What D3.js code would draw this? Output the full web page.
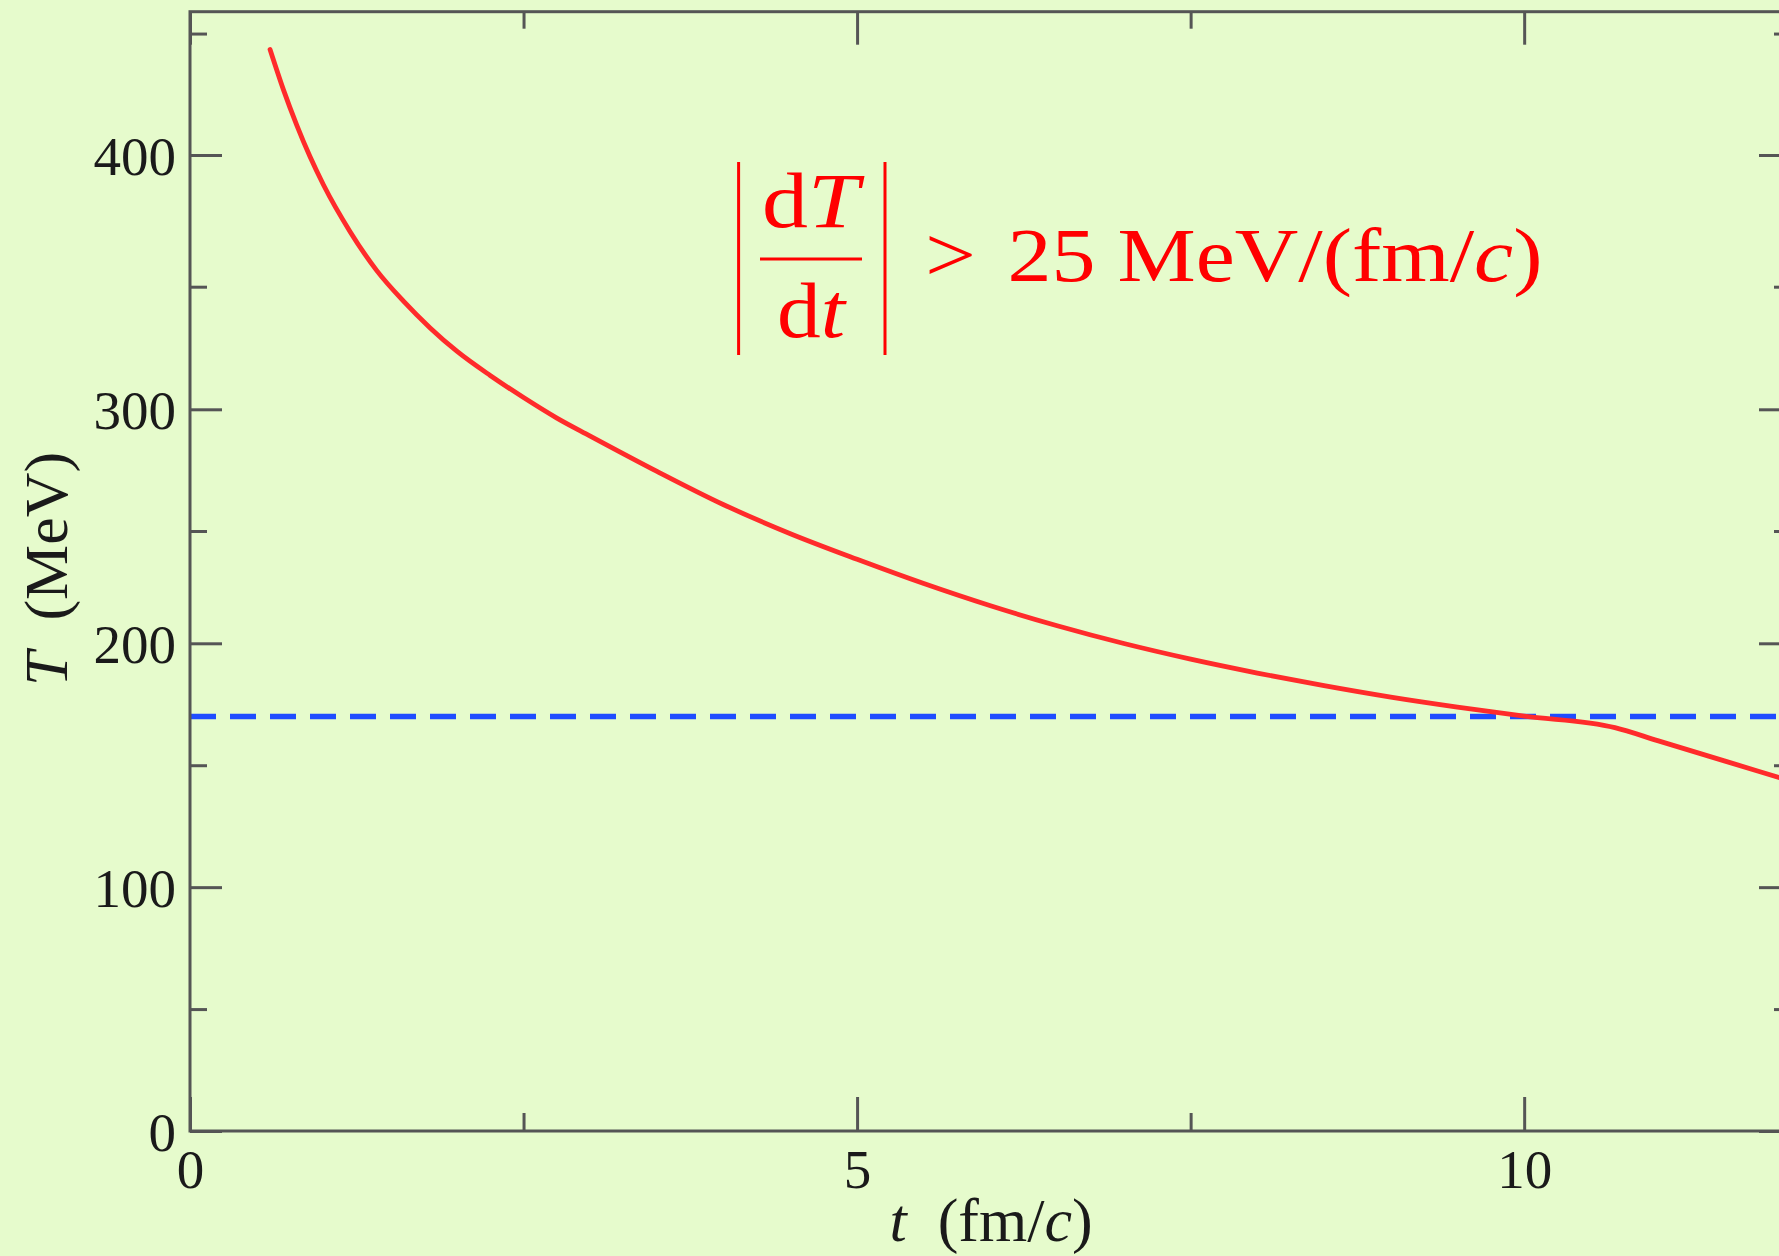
<!DOCTYPE html>
<html>
<head>
<meta charset="utf-8">
<script src="https://cdn.jsdelivr.net/npm/d3@7"></script>
<style>
  html, body { margin: 0; padding: 0; background: #e6fbcc; }
  svg { display: block; }
  text { font-family: "Liberation Serif", "Times New Roman", serif; }
</style>
</head>
<body>
<div id="chart"></div>
<script>
// ---- data ----
const timeValues = [0.6, 0.7, 0.8, 0.9, 1.0, 1.2, 1.4, 1.6, 1.8, 2.0, 2.25, 2.5, 2.75, 3.0,
  3.5, 4.0, 4.5, 5.0, 5.5, 6.0, 6.5, 7.0, 7.5, 8.0, 8.5, 9.0, 9.5, 10.0, 10.68, 11.0, 11.5, 12.0];
const temperatureValues = [443.4, 426.9, 412.3, 399.3, 388.7, 370.9, 356.1, 344.1, 333.2, 323.7, 313.8,
  304.8, 296.4, 289.0, 274.5, 260.8, 248.8, 237.4, 226.6, 216.7, 207.8, 199.9, 193.5, 187.8, 182.6,
  177.9, 173.8, 170.1, 165.4, 160.1, 151.8, 143.5];
const criticalTemperature = [170];
const xDomain = [0, 12];
const yDomain = [0, 459];
const xMajorTicks = [0, 5, 10];
const xMinorTicks = [2.5, 7.5];
const yMajorTicks = [0, 100, 200, 300, 400];
const yMinorTicks = [50, 150, 250, 350, 450];

(function () {
// ---- layout ----
const W = 1779, H = 1256;
const padL = 190, padR = 1791, padT = 11.7, padB = 1131;
const axisColor = "#555555";

const svg = d3.select("#chart").append("svg")
  .attr("width", W).attr("height", H);

svg.append("rect").attr("width", W).attr("height", H).attr("fill", "#e6fbcc");

const x = d3.scaleLinear().domain(xDomain).range([padL, padR]);
// the reference's vertical axis is slightly uneven; follow its tick positions
const y = d3.scaleLinear()
  .domain([yDomain[0], 200, 250, 300, 350, 400, yDomain[1]])
  .range([padB, 643.3, 531, 409.3, 286.7, 155, padT]);

// dashed critical temperature line
svg.append("g").selectAll("line").data(criticalTemperature).join("line")
  .attr("x1", x(xDomain[0])).attr("x2", x(xDomain[1]))
  .attr("y1", d => y(d)).attr("y2", d => y(d))
  .attr("stroke", "#1f4cff").attr("stroke-width", 5.5)
  .attr("stroke-dasharray", "26 14");

// red curve
const pts = timeValues.map((t, i) => [t, temperatureValues[i]]);
svg.append("path").datum(pts)
  .attr("fill", "none")
  .attr("stroke", "#ff2b2b")
  .attr("stroke-width", 4.8)
  .attr("stroke-linecap", "round")
  .attr("stroke-linejoin", "round")
  .attr("d", d3.line().x(d => x(d[0])).y(d => y(d[1])).curve(d3.curveMonotoneX));

// axes helpers
function styleAxis(g, withLabels) {
  g.select(".domain").remove();
  g.selectAll(".tick line").attr("stroke", axisColor).attr("stroke-width", 3);
  g.selectAll(".tick text")
    .attr("fill", "#1a1a1a")
    .style("font-family", "'Liberation Serif', serif")
    .style("font-size", "55px");
  if (!withLabels) g.selectAll(".tick text").remove();
}

// bottom axis
const gB = svg.append("g").attr("transform", `translate(0,${padB})`)
  .call(d3.axisBottom(x).tickValues(xMajorTicks).tickSize(-34).tickSizeOuter(0).tickPadding(18).tickFormat(d3.format("d")));
styleAxis(gB, true);
const gBm = svg.append("g").attr("transform", `translate(0,${padB})`)
  .call(d3.axisBottom(x).tickValues(xMinorTicks).tickSize(-18).tickSizeOuter(0).tickFormat(""));
styleAxis(gBm, false);

// top axis
const gT = svg.append("g").attr("transform", `translate(0,${padT})`)
  .call(d3.axisTop(x).tickValues(xMajorTicks).tickSize(-33).tickSizeOuter(0).tickFormat(""));
styleAxis(gT, false);
const gTm = svg.append("g").attr("transform", `translate(0,${padT})`)
  .call(d3.axisTop(x).tickValues(xMinorTicks).tickSize(-17).tickSizeOuter(0).tickFormat(""));
styleAxis(gTm, false);

// left axis
const gL = svg.append("g").attr("transform", `translate(${padL},0)`)
  .call(d3.axisLeft(y).tickValues(yMajorTicks).tickSize(-32).tickSizeOuter(0).tickPadding(14).tickFormat(d3.format("d")));
styleAxis(gL, true);
gL.selectAll(".tick text").attr("dy", "0.35em");
const gLm = svg.append("g").attr("transform", `translate(${padL},0)`)
  .call(d3.axisLeft(y).tickValues(yMinorTicks).tickSize(-17).tickSizeOuter(0).tickFormat(""));
styleAxis(gLm, false);

// right axis
const gR = svg.append("g").attr("transform", `translate(${padR},0)`)
  .call(d3.axisRight(y).tickValues(yMajorTicks).tickSize(-32).tickSizeOuter(0).tickFormat(""));
styleAxis(gR, false);
const gRm = svg.append("g").attr("transform", `translate(${padR},0)`)
  .call(d3.axisRight(y).tickValues(yMinorTicks).tickSize(-17).tickSizeOuter(0).tickFormat(""));
styleAxis(gRm, false);

// frame
svg.append("rect")
  .attr("x", padL).attr("y", padT)
  .attr("width", padR - padL).attr("height", padB - padT)
  .attr("fill", "none").attr("stroke", axisColor).attr("stroke-width", 3);

// axis titles
const xt = svg.append("text")
  .attr("x", 991).attr("y", 1241)
  .attr("text-anchor", "middle")
  .attr("fill", "#1a1a1a")
  .style("font-size", "62px");
xt.append("tspan").style("font-style", "italic").text("t");
xt.append("tspan").attr("dx", 31).text("(fm/");
xt.append("tspan").style("font-style", "italic").text("c");
xt.append("tspan").text(")");

const yt = svg.append("text")
  .attr("transform", "translate(67,569) rotate(-90)")
  .attr("text-anchor", "middle")
  .attr("fill", "#1a1a1a")
  .style("font-size", "62px");
yt.append("tspan").style("font-style", "italic").text("T");
yt.append("tspan").attr("dx", 31).text("(MeV)");

// annotation |dT/dt| > 25 MeV/(fm/c)
const red = "#ff0000";
const ann = svg.append("g").attr("fill", red);
ann.append("line").attr("x1", 738.6).attr("x2", 738.6).attr("y1", 162).attr("y2", 355)
  .attr("stroke", red).attr("stroke-width", 3);
ann.append("line").attr("x1", 885).attr("x2", 885).attr("y1", 162).attr("y2", 355)
  .attr("stroke", red).attr("stroke-width", 3);
ann.append("line").attr("x1", 760).attr("x2", 862).attr("y1", 259).attr("y2", 259)
  .attr("stroke", red).attr("stroke-width", 3);

const num = ann.append("text").attr("x", 762).attr("y", 227)
  .attr("textLength", 97).attr("lengthAdjust", "spacingAndGlyphs")
  .style("font-size", "78px");
num.append("tspan").text("d");
num.append("tspan").style("font-style", "italic").text("T");

const den = ann.append("text").attr("x", 777).attr("y", 337)
  .attr("textLength", 68).attr("lengthAdjust", "spacingAndGlyphs")
  .style("font-size", "78px");
den.append("tspan").text("d");
den.append("tspan").style("font-style", "italic").text("t");

ann.append("text").attr("x", 925).attr("y", 281)
  .attr("textLength", 51).attr("lengthAdjust", "spacingAndGlyphs")
  .style("font-size", "78px").text(">");

const rhs = ann.append("text").attr("x", 1007.5).attr("y", 281)
  .attr("textLength", 535).attr("lengthAdjust", "spacingAndGlyphs")
  .style("font-size", "77px");
rhs.append("tspan").text("25 MeV/(fm/");
rhs.append("tspan").style("font-style", "italic").text("c");
rhs.append("tspan").text(")");
})();
</script>
</body>
</html>
